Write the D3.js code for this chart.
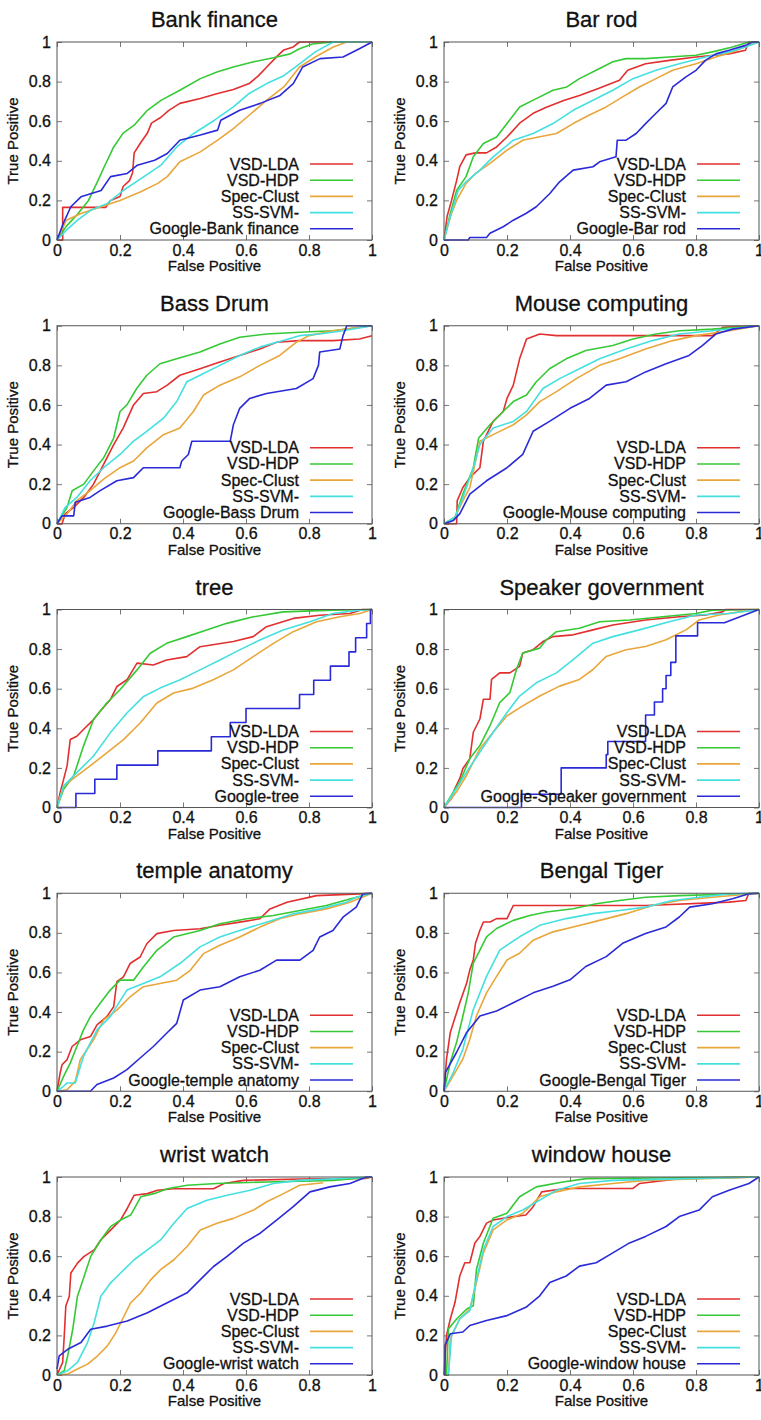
<!DOCTYPE html>
<html>
<head>
<meta charset="utf-8">
<style type="text/css">
  body {
    margin: 0;
    background: white;
  }
  svg text {
    font-family: 'Liberation Sans', Arial, Helvetica, sans-serif;
    fill: #111;
    stroke: #111;
    stroke-width: 0.3px;
  }
  .title { font-size: 22px; }
  .tickText text { font-size: 16px; }
  .axisLabel { font-size: 15px; }
  .legendText { font-size: 16px; }
</style>
</head>
<body>

<script src="https://cdn.jsdelivr.net/npm/d3@7/dist/d3.min.js"></script>

<div id="chart"></div>

<script>

// panel titles, in reading order (left to right, top to bottom)
var titles = ["Bank finance", "Bar rod", "Bass Drum", "Mouse computing", "tree",
  "Speaker government", "temple anatomy", "Bengal Tiger", "wrist watch", "window house"];

var methods = ["VSD-LDA", "VSD-HDP", "Spec-Clust", "SS-SVM-"];
var colors = ["#e22f2f", "#36c936", "#e9a63a", "#44e0e0", "#2a2ad8"];

var tickVals = [0, 0.2, 0.4, 0.6, 0.8, 1];
var tickLabels = ["0", "0.2", "0.4", "0.6", "0.8", "1"];

// ROC curves: [false positive, true positive]
// order in each panel: VSD-LDA, VSD-HDP, Spec-Clust, SS-SVM-, Google
var bankFinance = [
  [[0,0],[0.018,0],[0.018,0.165],[0.155,0.165],[0.17,0.2],[0.2,0.22],[0.21,0.27],[0.23,0.3],[0.24,0.34],[0.245,0.44],[0.265,0.49],[0.287,0.54],[0.3,0.59],[0.33,0.62],[0.355,0.655],[0.39,0.69],[0.455,0.715],[0.51,0.74],[0.56,0.76],[0.61,0.79],[0.64,0.83],[0.666,0.874],[0.7,0.93],[0.72,0.96],[0.75,0.975],[0.77,1],[1,1]],
  [[0,0],[0.03,0.07],[0.065,0.13],[0.1,0.2],[0.13,0.3],[0.15,0.37],[0.18,0.47],[0.21,0.54],[0.245,0.58],[0.287,0.655],[0.33,0.705],[0.39,0.756],[0.455,0.815],[0.51,0.85],[0.56,0.874],[0.624,0.9],[0.687,0.92],[0.74,0.94],[0.77,0.966],[0.81,0.99],[0.877,1],[1,1]],
  [[0,0],[0.03,0.1],[0.076,0.134],[0.14,0.168],[0.2,0.2],[0.266,0.244],[0.32,0.286],[0.35,0.32],[0.39,0.395],[0.455,0.445],[0.51,0.504],[0.56,0.563],[0.61,0.63],[0.666,0.706],[0.72,0.773],[0.77,0.874],[0.82,0.924],[0.877,0.975],[0.92,1],[1,1]],
  [[0,0],[0.03,0.05],[0.065,0.1],[0.107,0.15],[0.16,0.185],[0.21,0.25],[0.276,0.32],[0.33,0.378],[0.38,0.47],[0.434,0.538],[0.5,0.605],[0.56,0.672],[0.61,0.74],[0.666,0.79],[0.72,0.83],[0.77,0.89],[0.82,0.95],[0.877,1],[1,1]],
  [[0,0],[0.02,0.084],[0.044,0.168],[0.076,0.218],[0.14,0.25],[0.17,0.32],[0.223,0.336],[0.255,0.378],[0.31,0.403],[0.35,0.437],[0.39,0.504],[0.455,0.53],[0.51,0.555],[0.52,0.605],[0.58,0.655],[0.645,0.69],[0.708,0.73],[0.75,0.79],[0.78,0.874],[0.835,0.916],[0.908,0.924],[0.96,0.966],[1,1]]
];

var barRod = [
  [[0,0],[0.01,0.12],[0.024,0.2],[0.04,0.3],[0.05,0.37],[0.07,0.43],[0.1,0.44],[0.135,0.44],[0.167,0.47],[0.2,0.52],[0.24,0.59],[0.283,0.64],[0.325,0.67],[0.38,0.705],[0.43,0.73],[0.49,0.765],[0.557,0.807],[0.583,0.857],[0.64,0.89],[0.715,0.907],[0.8,0.924],[0.905,0.94],[0.957,0.958],[0.968,1],[1,1]],
  [[0,0],[0.02,0.134],[0.04,0.25],[0.07,0.32],[0.093,0.42],[0.125,0.487],[0.167,0.52],[0.2,0.588],[0.24,0.672],[0.293,0.714],[0.346,0.756],[0.39,0.773],[0.43,0.815],[0.483,0.857],[0.536,0.9],[0.578,0.916],[0.64,0.916],[0.715,0.924],[0.8,0.933],[0.852,0.95],[0.916,0.975],[0.968,1],[1,1]],
  [[0,0],[0.02,0.118],[0.04,0.2],[0.07,0.286],[0.1,0.336],[0.146,0.387],[0.2,0.454],[0.25,0.504],[0.3,0.52],[0.357,0.538],[0.41,0.588],[0.46,0.63],[0.515,0.672],[0.567,0.723],[0.62,0.773],[0.673,0.815],[0.726,0.857],[0.8,0.89],[0.863,0.924],[0.916,0.95],[0.968,0.983],[1,1]],
  [[0,0],[0.02,0.118],[0.045,0.25],[0.07,0.294],[0.114,0.353],[0.156,0.42],[0.22,0.504],[0.283,0.538],[0.346,0.588],[0.41,0.655],[0.473,0.706],[0.536,0.756],[0.6,0.815],[0.673,0.857],[0.747,0.89],[0.83,0.924],[0.905,0.95],[0.957,0.975],[1,1]],
  [[0,0],[0.077,0],[0.082,0.013],[0.135,0.013],[0.146,0.034],[0.188,0.067],[0.22,0.1],[0.26,0.134],[0.293,0.168],[0.336,0.235],[0.367,0.294],[0.41,0.353],[0.473,0.37],[0.494,0.395],[0.546,0.42],[0.55,0.504],[0.578,0.504],[0.61,0.538],[0.64,0.588],[0.673,0.64],[0.705,0.69],[0.726,0.773],[0.768,0.824],[0.8,0.857],[0.83,0.907],[0.863,0.94],[0.905,0.958],[0.957,0.983],[0.98,1],[1,1]]
];

var bassDrum = [
  [[0,0],[0.016,0],[0.026,0.05],[0.053,0.083],[0.085,0.133],[0.116,0.2],[0.148,0.3],[0.18,0.4],[0.21,0.483],[0.243,0.6],[0.274,0.658],[0.317,0.667],[0.35,0.7],[0.39,0.75],[0.454,0.783],[0.517,0.817],[0.58,0.85],[0.644,0.883],[0.697,0.917],[0.77,0.925],[0.876,0.925],[0.96,0.933],[1,0.95]],
  [[0,0],[0.032,0.083],[0.048,0.167],[0.085,0.2],[0.116,0.267],[0.148,0.333],[0.18,0.433],[0.2,0.567],[0.222,0.6],[0.253,0.683],[0.285,0.75],[0.327,0.808],[0.38,0.833],[0.454,0.867],[0.517,0.908],[0.58,0.942],[0.665,0.958],[0.77,0.967],[0.876,0.975],[1,1]],
  [[0,0],[0.032,0.05],[0.063,0.117],[0.105,0.167],[0.148,0.225],[0.2,0.283],[0.243,0.317],[0.285,0.383],[0.338,0.45],[0.39,0.483],[0.433,0.567],[0.465,0.65],[0.517,0.7],[0.58,0.742],[0.644,0.8],[0.707,0.85],[0.76,0.917],[0.8,0.95],[0.876,0.975],[1,1]],
  [[0,0],[0.026,0.083],[0.063,0.133],[0.105,0.217],[0.148,0.283],[0.2,0.35],[0.243,0.417],[0.285,0.467],[0.338,0.533],[0.38,0.617],[0.412,0.717],[0.454,0.75],[0.517,0.8],[0.58,0.85],[0.644,0.892],[0.718,0.925],[0.77,0.95],[0.834,0.958],[0.908,0.975],[1,1]],
  [[0,0],[0.016,0.04],[0.053,0.04],[0.058,0.108],[0.105,0.133],[0.137,0.167],[0.19,0.217],[0.243,0.233],[0.274,0.283],[0.39,0.283],[0.396,0.317],[0.417,0.35],[0.428,0.417],[0.55,0.417],[0.56,0.5],[0.58,0.583],[0.612,0.633],[0.665,0.658],[0.76,0.683],[0.813,0.733],[0.83,0.8],[0.834,0.867],[0.898,0.883],[0.908,0.95],[0.92,1],[1,1]]
];

var mouseComputing = [
  [[0,0],[0.04,0],[0.042,0.117],[0.06,0.183],[0.082,0.233],[0.114,0.283],[0.125,0.417],[0.156,0.517],[0.188,0.567],[0.2,0.633],[0.22,0.7],[0.24,0.833],[0.262,0.933],[0.304,0.958],[0.357,0.95],[0.852,0.95],[0.885,0.992],[1,1]],
  [[0,0],[0.035,0.033],[0.06,0.15],[0.093,0.283],[0.11,0.433],[0.146,0.5],[0.188,0.567],[0.22,0.617],[0.262,0.65],[0.293,0.717],[0.335,0.783],[0.388,0.833],[0.45,0.875],[0.536,0.9],[0.6,0.933],[0.673,0.958],[0.747,0.975],[0.852,0.983],[1,1]],
  [[0,0],[0.035,0.033],[0.06,0.117],[0.082,0.183],[0.114,0.417],[0.156,0.45],[0.22,0.5],[0.262,0.55],[0.304,0.617],[0.357,0.667],[0.42,0.733],[0.494,0.8],[0.557,0.833],[0.64,0.883],[0.726,0.925],[0.8,0.95],[0.905,0.975],[1,1]],
  [[0,0],[0.035,0.033],[0.06,0.133],[0.093,0.283],[0.114,0.4],[0.156,0.483],[0.22,0.517],[0.262,0.567],[0.314,0.683],[0.367,0.733],[0.43,0.783],[0.494,0.833],[0.578,0.883],[0.662,0.925],[0.747,0.958],[0.852,0.975],[1,1]],
  [[0,0],[0.03,0.017],[0.05,0.05],[0.082,0.15],[0.135,0.217],[0.2,0.283],[0.25,0.35],[0.283,0.467],[0.335,0.517],[0.4,0.583],[0.462,0.633],[0.515,0.7],[0.578,0.717],[0.64,0.767],[0.705,0.808],[0.778,0.85],[0.82,0.9],[0.863,0.958],[0.916,0.983],[1,1]]
];

var tree = [
  [[0,0],[0.01,0.075],[0.021,0.142],[0.032,0.21],[0.042,0.343],[0.063,0.36],[0.084,0.394],[0.116,0.444],[0.137,0.486],[0.169,0.544],[0.19,0.611],[0.222,0.645],[0.254,0.729],[0.306,0.72],[0.348,0.745],[0.412,0.762],[0.454,0.812],[0.56,0.838],[0.623,0.863],[0.665,0.913],[0.75,0.955],[0.834,0.971],[0.93,0.98],[0.97,1],[1,1]],
  [[0,0],[0.021,0.092],[0.053,0.16],[0.084,0.31],[0.116,0.444],[0.158,0.528],[0.2,0.595],[0.254,0.695],[0.296,0.779],[0.348,0.829],[0.412,0.863],[0.475,0.896],[0.539,0.93],[0.623,0.963],[0.718,0.988],[0.876,0.997],[1,1]],
  [[0,0],[0.021,0.109],[0.063,0.16],[0.105,0.21],[0.158,0.276],[0.211,0.343],[0.264,0.427],[0.317,0.528],[0.37,0.578],[0.433,0.603],[0.496,0.645],[0.56,0.695],[0.623,0.762],[0.687,0.829],[0.75,0.888],[0.824,0.938],[0.898,0.963],[0.961,0.98],[1,1]],
  [[0,0],[0.021,0.109],[0.063,0.176],[0.116,0.26],[0.169,0.377],[0.222,0.477],[0.275,0.561],[0.327,0.603],[0.391,0.645],[0.454,0.695],[0.517,0.745],[0.58,0.796],[0.644,0.846],[0.718,0.896],[0.803,0.938],[0.876,0.98],[0.961,0.997],[1,1]],
  [[0,0],[0.06,0],[0.06,0.071],[0.12,0.071],[0.12,0.143],[0.19,0.143],[0.19,0.214],[0.32,0.214],[0.32,0.286],[0.49,0.286],[0.49,0.357],[0.55,0.357],[0.55,0.429],[0.6,0.429],[0.6,0.5],[0.77,0.5],[0.77,0.571],[0.815,0.571],[0.815,0.643],[0.868,0.643],[0.868,0.714],[0.927,0.714],[0.927,0.786],[0.948,0.786],[0.948,0.857],[0.983,0.857],[0.983,0.929],[0.995,0.929],[0.995,1],[1,1]]
];

var speakerGov = [
  [[0,0],[0.024,0.047],[0.035,0.097],[0.05,0.147],[0.06,0.197],[0.082,0.247],[0.093,0.38],[0.114,0.447],[0.125,0.547],[0.146,0.547],[0.151,0.647],[0.177,0.68],[0.209,0.68],[0.24,0.713],[0.25,0.78],[0.283,0.797],[0.314,0.838],[0.346,0.863],[0.41,0.872],[0.473,0.897],[0.536,0.922],[0.64,0.947],[0.747,0.963],[0.83,0.972],[0.884,0.988],[0.895,1],[1,1]],
  [[0,0],[0.024,0.063],[0.05,0.13],[0.082,0.247],[0.114,0.313],[0.146,0.413],[0.177,0.53],[0.209,0.58],[0.23,0.697],[0.25,0.78],[0.304,0.805],[0.325,0.847],[0.357,0.888],[0.43,0.905],[0.494,0.938],[0.589,0.947],[0.694,0.963],[0.8,0.98],[0.852,0.997],[1,1]],
  [[0,0],[0.04,0.08],[0.072,0.163],[0.114,0.297],[0.156,0.38],[0.2,0.463],[0.25,0.513],[0.304,0.563],[0.367,0.613],[0.43,0.647],[0.473,0.697],[0.515,0.763],[0.578,0.797],[0.64,0.813],[0.705,0.847],[0.768,0.897],[0.81,0.947],[0.873,0.972],[0.937,0.988],[1,1]],
  [[0,0],[0.04,0.097],[0.072,0.18],[0.114,0.28],[0.156,0.38],[0.2,0.48],[0.24,0.563],[0.293,0.63],[0.357,0.68],[0.41,0.747],[0.473,0.83],[0.536,0.863],[0.62,0.897],[0.715,0.938],[0.8,0.972],[0.905,0.98],[1,1]],
  [[0,0],[0.246,0],[0.246,0.067],[0.372,0.067],[0.372,0.2],[0.515,0.2],[0.515,0.267],[0.52,0.267],[0.52,0.333],[0.64,0.333],[0.64,0.467],[0.668,0.467],[0.668,0.533],[0.694,0.533],[0.694,0.6],[0.705,0.6],[0.705,0.667],[0.72,0.667],[0.72,0.733],[0.736,0.733],[0.736,0.867],[0.805,0.867],[0.805,0.933],[0.89,0.933],[1,1]]
];

var templeAnatomy = [
  [[0,0],[0.01,0.092],[0.016,0.134],[0.032,0.16],[0.048,0.226],[0.074,0.26],[0.106,0.276],[0.127,0.335],[0.158,0.377],[0.18,0.427],[0.19,0.553],[0.211,0.578],[0.232,0.645],[0.264,0.678],[0.285,0.745],[0.317,0.796],[0.37,0.812],[0.454,0.821],[0.517,0.838],[0.58,0.854],[0.644,0.871],[0.676,0.921],[0.73,0.955],[0.824,0.988],[0.961,0.997],[1,1]],
  [[0,0],[0.021,0.075],[0.042,0.142],[0.063,0.226],[0.084,0.31],[0.106,0.377],[0.137,0.444],[0.169,0.511],[0.2,0.561],[0.243,0.561],[0.274,0.628],[0.317,0.712],[0.37,0.779],[0.454,0.812],[0.517,0.846],[0.602,0.871],[0.687,0.888],[0.771,0.913],[0.855,0.938],[0.93,0.971],[1,1]],
  [[0,0],[0.032,0.008],[0.058,0.05],[0.074,0.16],[0.116,0.26],[0.148,0.36],[0.19,0.41],[0.232,0.477],[0.274,0.528],[0.327,0.544],[0.38,0.561],[0.423,0.611],[0.465,0.695],[0.517,0.737],[0.58,0.779],[0.644,0.829],[0.707,0.871],[0.771,0.896],[0.855,0.921],[0.93,0.955],[1,1]],
  [[0,0],[0.021,0.025],[0.032,0.042],[0.058,0.042],[0.084,0.176],[0.127,0.31],[0.169,0.377],[0.222,0.511],[0.274,0.544],[0.327,0.578],[0.39,0.645],[0.454,0.729],[0.517,0.779],[0.58,0.812],[0.665,0.854],[0.75,0.896],[0.834,0.921],[0.919,0.955],[0.95,0.98],[1,1]],
  [[0,0],[0.106,0],[0.127,0.034],[0.18,0.067],[0.222,0.109],[0.264,0.168],[0.306,0.226],[0.348,0.293],[0.38,0.343],[0.401,0.461],[0.454,0.511],[0.517,0.528],[0.58,0.578],[0.644,0.611],[0.697,0.662],[0.771,0.662],[0.813,0.712],[0.834,0.779],[0.876,0.812],[0.908,0.879],[0.95,0.93],[0.971,0.997],[1,1]]
];

var bengalTiger = [
  [[0,0],[0.008,0.163],[0.02,0.297],[0.03,0.347],[0.05,0.447],[0.072,0.547],[0.082,0.613],[0.093,0.663],[0.1,0.747],[0.114,0.813],[0.125,0.855],[0.146,0.855],[0.167,0.872],[0.2,0.872],[0.22,0.938],[0.64,0.938],[0.905,0.955],[0.958,0.963],[0.968,1],[1,1]],
  [[0,0],[0.02,0.147],[0.04,0.247],[0.06,0.38],[0.077,0.497],[0.093,0.647],[0.114,0.713],[0.135,0.78],[0.167,0.822],[0.22,0.863],[0.272,0.888],[0.325,0.905],[0.41,0.922],[0.483,0.947],[0.557,0.963],[0.64,0.98],[0.747,0.988],[1,1]],
  [[0,0],[0.03,0.08],[0.06,0.163],[0.082,0.263],[0.103,0.38],[0.135,0.497],[0.167,0.58],[0.2,0.663],[0.24,0.697],[0.283,0.763],[0.346,0.805],[0.41,0.83],[0.494,0.863],[0.578,0.897],[0.662,0.938],[0.747,0.963],[0.852,0.98],[1,1]],
  [[0,0],[0.03,0.097],[0.06,0.213],[0.093,0.413],[0.135,0.58],[0.177,0.713],[0.24,0.78],[0.304,0.838],[0.388,0.872],[0.473,0.897],[0.557,0.913],[0.64,0.93],[0.726,0.963],[0.81,0.98],[0.905,0.997],[1,1]],
  [[0,0],[0.005,0.097],[0.04,0.197],[0.072,0.297],[0.114,0.38],[0.167,0.405],[0.22,0.447],[0.283,0.497],[0.346,0.53],[0.4,0.563],[0.45,0.63],[0.515,0.68],[0.567,0.747],[0.64,0.797],[0.705,0.83],[0.747,0.88],[0.78,0.93],[0.852,0.947],[0.916,0.972],[0.968,0.997],[1,1]]
];

var wristWatch = [
  [[0,0],[0.018,0.064],[0.023,0.197],[0.028,0.348],[0.039,0.398],[0.044,0.515],[0.065,0.565],[0.086,0.599],[0.118,0.632],[0.139,0.682],[0.17,0.732],[0.202,0.783],[0.223,0.841],[0.245,0.908],[0.287,0.916],[0.319,0.933],[0.37,0.941],[0.497,0.941],[0.53,0.967],[0.592,0.983],[0.77,0.99],[0.98,0.993],[1,1]],
  [[0,0],[0.023,0.022],[0.034,0.097],[0.05,0.231],[0.065,0.398],[0.086,0.498],[0.107,0.599],[0.139,0.682],[0.17,0.749],[0.202,0.783],[0.234,0.808],[0.266,0.9],[0.308,0.916],[0.35,0.941],[0.413,0.958],[0.508,0.967],[0.666,0.975],[0.877,0.983],[1,1]],
  [[0,0],[0.034,0.005],[0.065,0.03],[0.097,0.055],[0.129,0.097],[0.16,0.147],[0.187,0.214],[0.213,0.298],[0.234,0.365],[0.266,0.415],[0.298,0.482],[0.329,0.532],[0.371,0.582],[0.413,0.649],[0.455,0.732],[0.508,0.766],[0.56,0.791],[0.624,0.833],[0.666,0.875],[0.719,0.916],[0.77,0.958],[0.845,0.971]],
  [[0,0],[0.034,0.022],[0.065,0.064],[0.097,0.164],[0.118,0.264],[0.139,0.398],[0.17,0.465],[0.202,0.515],[0.245,0.582],[0.287,0.632],[0.329,0.682],[0.371,0.766],[0.413,0.841],[0.476,0.883],[0.54,0.908],[0.613,0.933],[0.687,0.967],[0.77,0.983],[1,1]],
  [[0,0.03],[0.007,0.097],[0.034,0.13],[0.076,0.164],[0.107,0.231],[0.16,0.247],[0.223,0.273],[0.287,0.314],[0.35,0.365],[0.413,0.415],[0.455,0.482],[0.497,0.548],[0.54,0.599],[0.592,0.666],[0.645,0.716],[0.698,0.783],[0.75,0.85],[0.803,0.925],[0.866,0.95],[0.93,0.967],[0.982,1],[1,1]]
];

var windowHouse = [
  [[0,0],[0.008,0.2],[0.02,0.283],[0.035,0.367],[0.05,0.5],[0.066,0.567],[0.082,0.567],[0.098,0.667],[0.114,0.7],[0.135,0.767],[0.156,0.783],[0.22,0.8],[0.26,0.808],[0.283,0.85],[0.31,0.925],[0.385,0.942],[0.6,0.942],[0.62,0.967],[0.747,0.992],[1,1]],
  [[0.008,0],[0.014,0.233],[0.04,0.283],[0.072,0.333],[0.093,0.35],[0.103,0.533],[0.125,0.667],[0.156,0.792],[0.2,0.817],[0.24,0.9],[0.293,0.95],[0.377,0.975],[0.452,0.992],[1,1]],
  [[0.014,0],[0.02,0.183],[0.05,0.283],[0.082,0.333],[0.103,0.467],[0.125,0.617],[0.156,0.733],[0.2,0.783],[0.25,0.817],[0.304,0.9],[0.357,0.925],[0.43,0.95],[0.536,0.967],[0.64,0.983],[1,1]],
  [[0.014,0],[0.024,0.2],[0.05,0.283],[0.082,0.325],[0.103,0.483],[0.125,0.633],[0.156,0.75],[0.2,0.8],[0.25,0.833],[0.304,0.883],[0.357,0.933],[0.43,0.967],[0.536,0.983],[1,1]],
  [[0.003,0],[0.003,0.15],[0.02,0.208],[0.06,0.217],[0.082,0.25],[0.135,0.275],[0.2,0.3],[0.26,0.342],[0.304,0.4],[0.336,0.467],[0.388,0.5],[0.43,0.55],[0.483,0.567],[0.536,0.617],[0.589,0.667],[0.64,0.7],[0.705,0.75],[0.747,0.8],[0.81,0.833],[0.852,0.9],[0.905,0.933],[0.968,0.967],[1,1]]
];

var panels = [bankFinance, barRod, bassDrum, mouseComputing, tree,
  speakerGov, templeAnatomy, bengalTiger, wristWatch, windowHouse];

var width = 761;
var height = 1420;

var plotW = 315;
var plotH = 198;
var colLeft = [57, 444];
var rowTop = 42;
var rowStep = 283.75;

var svg = d3.select("#chart")
  .append("svg")
  .attr("width", width)
  .attr("height", height)
  .style("display", "block")
  .style("background", "white");

var x = d3.scaleLinear().domain([0, 1]).range([0, plotW]);
var y = d3.scaleLinear().domain([0, 1]).range([plotH, 0]);

var line = d3.line()
  .x(function(d) { return x(d[0]); })
  .y(function(d) { return y(d[1]); });

panels.forEach(function(panel, i) {

  var x0 = colLeft[i % 2];
  var y0 = rowTop + Math.floor(i / 2) * rowStep;

  var g = svg.append("g")
    .attr("transform", "translate(" + x0 + "," + y0 + ")");

  g.append("text")
    .attr("class", "title")
    .attr("x", plotW / 2)
    .attr("y", -15)
    .attr("text-anchor", "middle")
    .text(titles[i]);

  // axes: labelled left/bottom, bare mirror ticks right/top
  var fmt = function(d) { return tickLabels[tickVals.indexOf(d)]; };

  var left = g.append("g")
    .attr("class", "tickText")
    .call(d3.axisLeft(y).tickValues(tickVals).tickFormat(fmt).tickSize(-5).tickPadding(6));

  var bottom = g.append("g")
    .attr("class", "tickText")
    .attr("transform", "translate(0," + plotH + ")")
    .call(d3.axisBottom(x).tickValues(tickVals).tickFormat(fmt).tickSize(-5).tickPadding(6));

  var right = g.append("g")
    .attr("transform", "translate(" + plotW + ",0)")
    .call(d3.axisRight(y).tickValues(tickVals).tickFormat("").tickSize(-5));

  var top = g.append("g")
    .call(d3.axisTop(x).tickValues(tickVals).tickFormat("").tickSize(-5));

  [left, bottom, right, top].forEach(function(a) {
    a.select(".domain").remove();
    a.selectAll(".tick line").attr("stroke", "#777");
  });

  bottom.selectAll(".tick text").attr("dy", "0.6em");

  g.append("text")
    .attr("class", "axisLabel")
    .attr("x", plotW / 2)
    .attr("y", plotH + 31)
    .attr("text-anchor", "middle")
    .text("False Positive");

  g.append("text")
    .attr("class", "axisLabel")
    .attr("transform", "translate(-39," + (plotH / 2) + ") rotate(-90)")
    .attr("text-anchor", "middle")
    .text("True Positive");

  // curves
  g.selectAll(".curve")
    .data(panel)
    .enter()
    .append("path")
    .attr("class", "curve")
    .attr("d", line)
    .attr("fill", "none")
    .attr("stroke", function(d, k) { return colors[k]; })
    .attr("stroke-width", 1.6)
    .attr("stroke-linejoin", "round");

  // legend
  var names = methods.concat(["Google-" + titles[i]]);
  var legend = g.selectAll(".legendItem")
    .data(names)
    .enter()
    .append("g")
    .attr("class", "legendItem")
    .attr("transform", function(d, k) { return "translate(0," + (122 + k * 16.2) + ")"; });

  legend.append("text")
    .attr("class", "legendText")
    .attr("x", 242)
    .attr("y", 5.5)
    .attr("text-anchor", "end")
    .text(function(d) { return d; });

  legend.append("line")
    .attr("x1", 253)
    .attr("x2", 296)
    .attr("stroke", function(d, k) { return colors[k]; })
    .attr("stroke-width", 1.6);

  g.append("rect")
    .attr("width", plotW)
    .attr("height", plotH)
    .attr("fill", "none")
    .attr("stroke", "#555")
    .attr("stroke-width", 1);

});

</script>

</body>
</html>
